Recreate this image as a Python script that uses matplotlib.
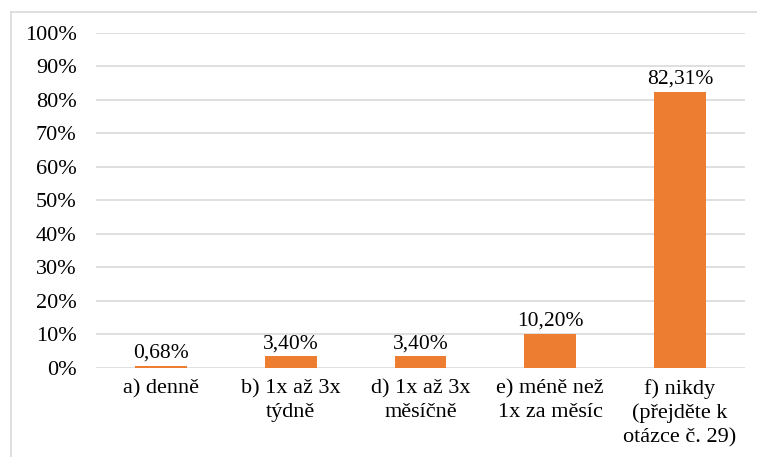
import numpy as np
import matplotlib.pyplot as plt
from matplotlib.lines import Line2D
from matplotlib.ticker import PercentFormatter

categories = ['a) denně', 'b) 1x až 3x\ntýdně', 'd) 1x až 3x\nměsíčně',
              'e) méně než\n1x za měsíc', 'f) nikdy\n(přejděte k\notázce č. 29)']
values = [0.68, 3.40, 3.40, 10.20, 82.31]
labels = ['0,68%', '3,40%', '3,40%', '10,20%', '82,31%']

plt.rcParams['font.family'] = ['Liberation Serif', 'DejaVu Serif']

fig = plt.figure(figsize=(7.57, 4.57), dpi=100)
ax = fig.add_axes([0.127, 0.195, 0.857, 0.733])

x = np.arange(len(categories))
ax.bar(x, values, width=0.4, color='#ED7D31', zorder=3)
for xi, v, lab in zip(x, values, labels):
    ax.text(xi, v + 1.0, lab, ha='center', va='bottom', fontsize=15.5)

ax.set_xlim(-0.5, len(categories) - 0.5)
ax.set_ylim(0, 100)
ax.set_yticks(np.arange(0, 101, 10))
ax.yaxis.set_major_formatter(PercentFormatter(decimals=0))
ax.set_xticks(x)
ax.set_xticklabels(categories, fontsize=16, linespacing=1.32)
ax.tick_params(axis='y', labelsize=16, length=0, pad=14)
ax.tick_params(axis='x', length=0, pad=8)
ax.grid(axis='y', color='#D9D9D9', linewidth=1.2, zorder=0)
for s in ax.spines.values():
    s.set_visible(False)

# outer chart border (left and top edges visible)
fig.add_artist(Line2D([0.0145, 0.0145], [0.0, 0.974], transform=fig.transFigure, color='#D9D9D9', lw=1.2))
fig.add_artist(Line2D([0.0145, 1.0], [0.974, 0.974], transform=fig.transFigure, color='#D9D9D9', lw=1.2))

fig.savefig('out.png', dpi=100)
